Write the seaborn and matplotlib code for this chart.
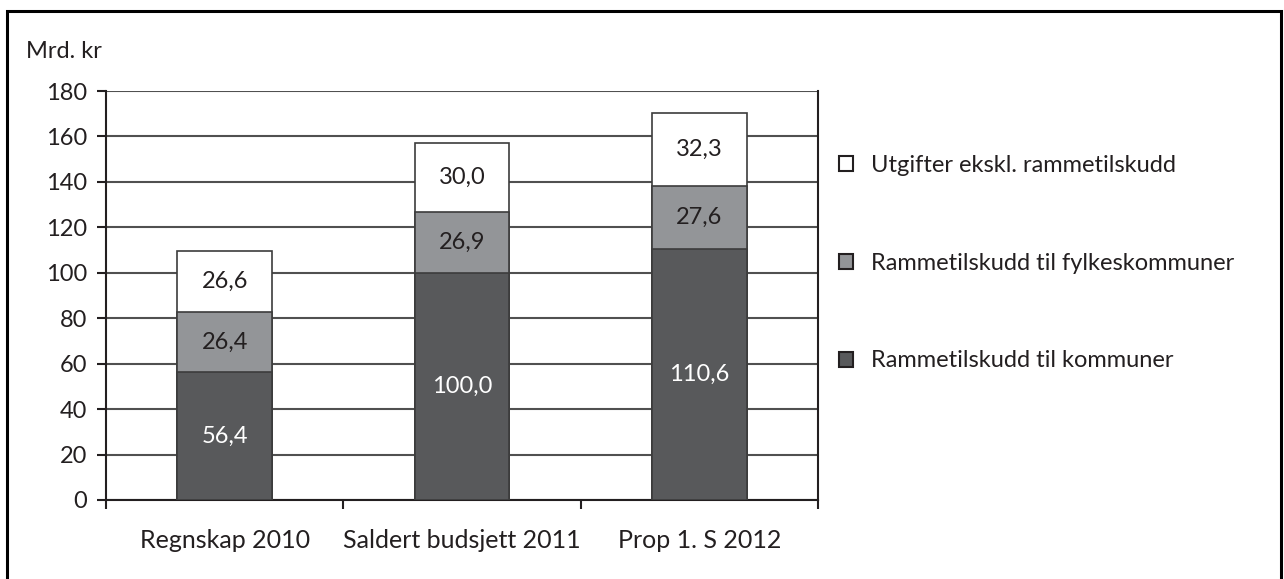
import matplotlib
matplotlib.use("Agg")
import matplotlib.pyplot as plt
from matplotlib.patches import Patch, Rectangle
import seaborn as sns
import pandas as pd
import numpy as np

categories = ["Regnskap 2010", "Saldert budsjett 2011", "Prop 1. S 2012"]
kommuner = [56.4, 100.0, 110.6]
fylkeskommuner = [26.4, 26.9, 27.6]
utgifter = [26.6, 30.0, 32.3]
series_names = ["Utgifter ekskl. rammetilskudd",
                "Rammetilskudd til fylkeskommuner",
                "Rammetilskudd til kommuner"]
yticks = [0, 20, 40, 60, 80, 100, 120, 140, 160, 180]

C_DARK = "#58595b"
C_MID = "#939598"
C_WHITE = "#ffffff"
C_EDGE = "#3c3c3c"
C_TEXT = "#231f20"

sns.set_theme(style="white")
plt.rcParams["font.family"] = ["Lato", "DejaVu Sans"]
FS = 17
FSX = 18

df = pd.DataFrame({"cat": categories, "k": kommuner, "f": fylkeskommuner, "u": utgifter})
df["kf"] = df["k"] + df["f"]
df["tot"] = df["kf"] + df["u"]

W, H = 1284, 579
fig = plt.figure(figsize=(W / 100, H / 100), dpi=100)
ax = fig.add_axes([106 / W, (H - 500) / H, (818 - 106) / W, (500 - 91) / H])

common = dict(ax=ax, width=0.4, saturation=1, edgecolor=C_EDGE, linewidth=1.2, zorder=3)
sns.barplot(data=df, x="cat", y="tot", color=C_WHITE, **common)
sns.barplot(data=df, x="cat", y="kf", color=C_MID, **common)
sns.barplot(data=df, x="cat", y="k", color=C_DARK, **common)

# segment labels
for i in range(len(categories)):
    ax.text(i, df["k"][i] / 2, f"{df['k'][i]:.1f}".replace(".", ","), ha="center", va="center",
            color="white", fontsize=FS, zorder=5)
    ax.text(i, df["k"][i] + df["f"][i] / 2, f"{df['f'][i]:.1f}".replace(".", ","), ha="center",
            va="center", color=C_TEXT, fontsize=FS, zorder=5)
    ax.text(i, df["kf"][i] + df["u"][i] / 2, f"{df['u'][i]:.1f}".replace(".", ","), ha="center",
            va="center", color=C_TEXT, fontsize=FS, zorder=5)

ax.set_xlim(-0.5, len(categories) - 0.5)
ax.set_ylim(0, 180)
ax.set_yticks(yticks)
ax.set_yticklabels([str(v) for v in yticks], fontsize=FS, color=C_TEXT)
ax.yaxis.grid(True, color="#505050", linewidth=1.5, zorder=0)
ax.set_axisbelow(True)

ax.set_xticks(np.arange(-0.5, len(categories), 1.0))
ax.set_xticklabels([])
ax.set_xticks(np.arange(len(categories)), minor=True)
ax.set_xticklabels(categories, minor=True, fontsize=FSX, color=C_TEXT)
ax.tick_params(axis="x", which="major", length=6.5, width=1.5, color=C_TEXT, direction="out", bottom=True)
ax.tick_params(axis="x", which="minor", length=0, pad=21)
ax.tick_params(axis="y", length=6.5, width=1.5, color=C_TEXT, direction="out", left=True, pad=7)
ax.set_xlabel("")
ax.set_ylabel("")

for s in ["left", "right", "bottom"]:
    ax.spines[s].set_visible(True)
    ax.spines[s].set_color(C_TEXT)
    ax.spines[s].set_linewidth(1.5)
ax.spines["top"].set_visible(False)

fig.text(26 / W, 1 - 52 / H, "Mrd. kr", fontsize=FS, color=C_TEXT, ha="left", va="center")

handles = [Patch(facecolor=C_WHITE, edgecolor=C_TEXT, linewidth=1.5),
           Patch(facecolor=C_MID, edgecolor=C_TEXT, linewidth=1.5),
           Patch(facecolor=C_DARK, edgecolor=C_TEXT, linewidth=1.5)]
leg = fig.legend(handles, series_names, loc="upper left", bbox_to_anchor=(839 / W, 1 - 155 / H),
                 frameon=False, fontsize=FS, handlelength=0.6, handleheight=0.6,
                 handletextpad=0.75, labelspacing=3.25, borderaxespad=0, borderpad=0)
for t in leg.get_texts():
    t.set_color(C_TEXT)

fig.add_artist(Rectangle((7 / W, -0.05), (1281 - 7) / W, 1.05 - 11 / H, transform=fig.transFigure,
                         fill=False, edgecolor="black", linewidth=2.2, clip_on=False))

fig.savefig("out.png", dpi=100)
